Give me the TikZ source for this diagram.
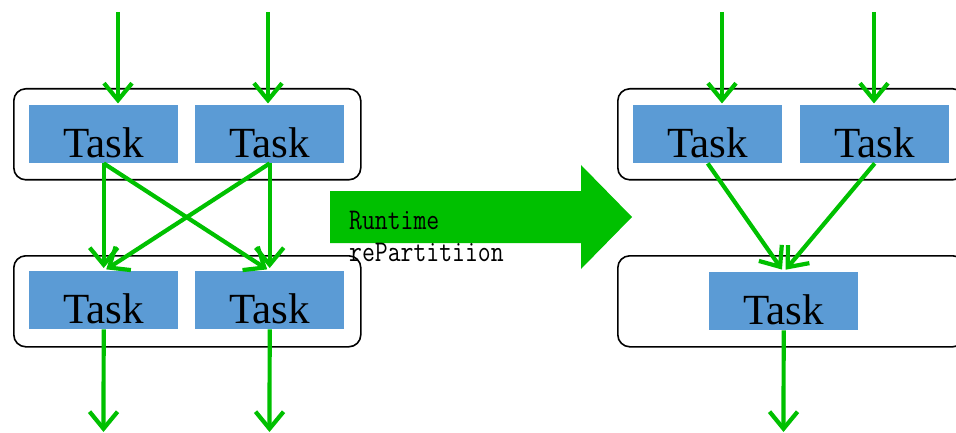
\documentclass[tikz,border=0pt]{standalone}
\usepackage{fontspec}
\setmainfont{Liberation Serif}
\usetikzlibrary{arrows.meta}
\definecolor{flowgreen}{RGB}{0,192,0}
\definecolor{taskblue}{RGB}{91,155,213}
\begin{document}
\begin{tikzpicture}[x=1pt,y=-1pt,
 container/.style={draw=black,line width=1.6pt,rounded corners=12pt,minimum width=347pt,minimum height=91pt,inner sep=0pt,anchor=north west},
 taskbox/.style={fill=taskblue,minimum width=149pt,minimum height=58pt,inner sep=0pt,text height=46pt,text depth=0pt,font=\fontsize{43}{43}\selectfont,anchor=north west},
 flow/.style={draw=flowgreen,line width=4.2pt,-{Straight Barb[length=17pt,width=28pt]}}]
\useasboundingbox (0,0) rectangle (956,433);
% containers
\node[container] (c1) at (13,88) {};
\node[container] (c2) at (13,255) {};
\node[container] (c3) at (617,88) {};
\node[container] (c4) at (617,255) {};
% tasks
\node[taskbox] (t1) at (29,105) {Task};
\node[taskbox] (t2) at (195,105) {Task};
\node[taskbox] (t3) at (29,271) {Task};
\node[taskbox] (t4) at (195,271) {Task};
\node[taskbox] (t5) at (633,105) {Task};
\node[taskbox] (t6) at (800,105) {Task};
\node[taskbox] (t7) at (709,272) {Task};
% free ends
\coordinate (in1) at (118,12);
\coordinate (in2) at (268,12);
\coordinate (in3) at (722,12);
\coordinate (in4) at (874,12);
\coordinate (out1) at (103.5,433);
\coordinate (out2) at (269.5,433);
\coordinate (out3) at (783.5,433);
% incoming
\draw[flow,shorten >=1.5pt] (in1) -- (in1 |- t1.north);
\draw[flow,shorten >=1.5pt] (in2) -- (in2 |- t2.north);
\draw[flow,shorten >=1.5pt] (in3) -- (in3 |- t5.north);
\draw[flow,shorten >=1.5pt] (in4) -- (in4 |- t6.north);
% left shuffle
\draw[flow,shorten >=3pt] (t1.south) -- (t3.north);
\draw[flow,shorten >=3pt] (t1.south) -- (t4.north);
\draw[flow,shorten >=3pt] (t2.south) -- (t3.north);
\draw[flow,shorten >=3pt] (t2.south) -- (t4.north);
% right merge
\draw[flow,shorten >=3pt] (t5.south) -- (t7.north);
\draw[flow,shorten >=3pt] (t6.south) -- (t7.north);
% outputs
\draw[flow,shorten >=1pt] (t3.south) -- (out1);
\draw[flow,shorten >=1pt] (t4.south) -- (out2);
\draw[flow,shorten >=1pt] (t7.south) -- (out3);
% big arrow
\fill[flowgreen] (330,191) -- (581,191) -- (581,165) -- (632,217) -- (581,269) -- (581,243) -- (330,243) -- cycle;
\node[anchor=base west,align=left,inner sep=0pt,font=\ttfamily\fontsize{25}{32}\selectfont] (lbl) at (349,261) {\scalebox{1}[1.2]{Runtime}\\\scalebox{1}[1.2]{rePartitiion}};
\end{tikzpicture}
\end{document}
